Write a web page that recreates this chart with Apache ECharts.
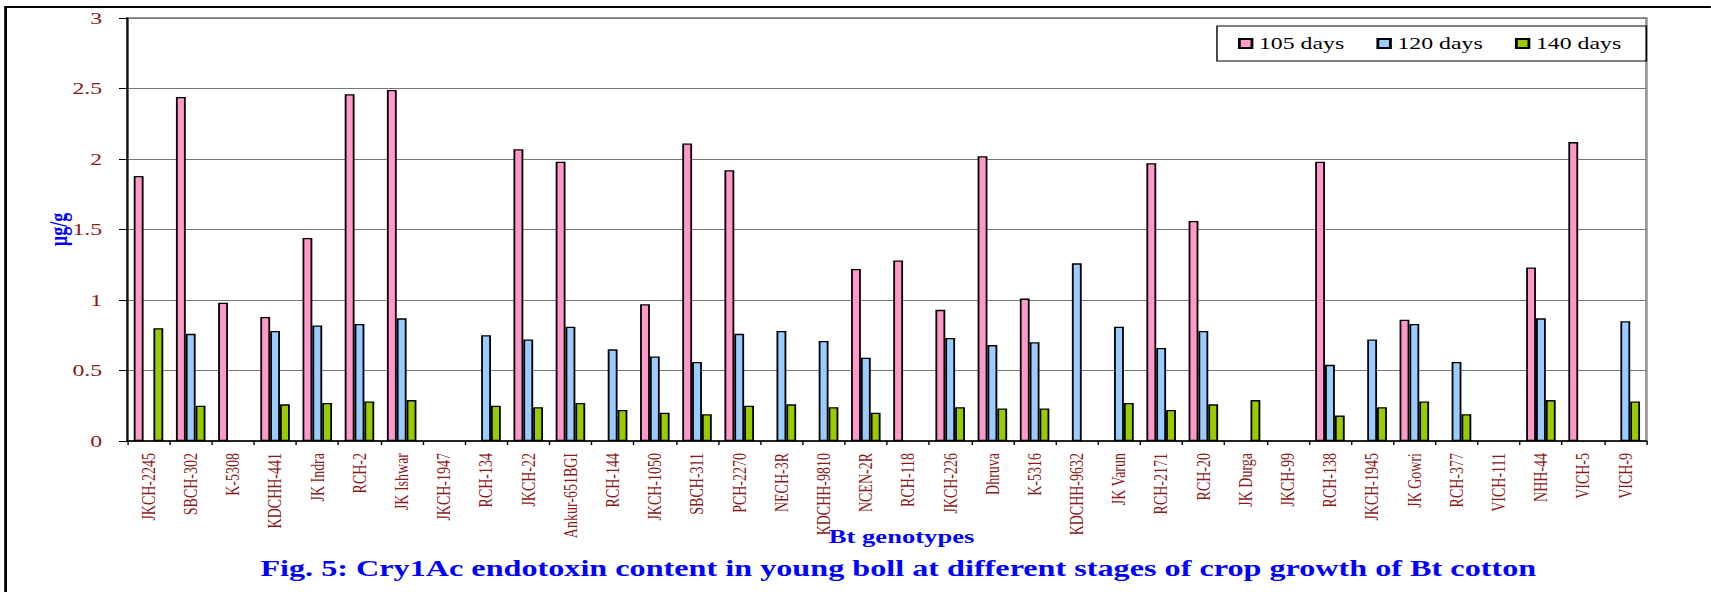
<!DOCTYPE html>
<html>
<head>
<meta charset="utf-8">
<script src="https://cdn.jsdelivr.net/npm/echarts@6/dist/echarts.min.js"></script>
<style>
  html, body { margin: 0; padding: 0; background: #fff; overflow: hidden; }
  /* the source figure is stretched sideways, so the chart is drawn narrow and widened */
  #main { width: 1222px; height: 592px; transform: scaleX(1.4); transform-origin: 0 0; }
</style>
</head>
<body>
<div id="main"></div>
<script>
var categories = ['JKCH-2245', 'SBCH-302', 'K-5308', 'KDCHH-441', 'JK Indra', 'RCH-2', 'JK Ishwar', 'JKCH-1947',
  'RCH-134', 'JKCH-22', 'Ankur-651BGI', 'RCH-144', 'JKCH-1050', 'SBCH-311', 'PCH-2270', 'NECH-3R',
  'KDCHH-9810', 'NCEN-2R', 'RCH-118', 'JKCH-226', 'Dhruva', 'K-5316', 'KDCHH-9632', 'JK Varun',
  'RCH-2171', 'RCH-20', 'JK Durga', 'JKCH-99', 'RCH-138', 'JKCH-1945', 'JK Gowri', 'RCH-377',
  'VICH-111', 'NHH-44', 'VICH-5', 'VICH-9'];

// µg/g, null = no bar in the figure
var days105 = [1.88, 2.44, 0.98, 0.88, 1.44, 2.46, 2.49, null, null, 2.07, 1.98, null, 0.97, 2.11, 1.92, null,
  null, 1.22, 1.28, 0.93, 2.02, 1.01, null, null, 1.97, 1.56, null, null, 1.98, null, 0.86, null,
  null, 1.23, 2.12, null];
var days120 = [null, 0.76, null, 0.78, 0.82, 0.83, 0.87, null, 0.75, 0.72, 0.81, 0.65, 0.60, 0.56, 0.76, 0.78,
  0.71, 0.59, null, 0.73, 0.68, 0.70, 1.26, 0.81, 0.66, 0.78, null, null, 0.54, 0.72, 0.83, 0.56,
  null, 0.87, null, 0.85];
var days140 = [0.80, 0.25, null, 0.26, 0.27, 0.28, 0.29, null, 0.25, 0.24, 0.27, 0.22, 0.20, 0.19, 0.25, 0.26,
  0.24, 0.20, null, 0.24, 0.23, 0.23, null, 0.27, 0.22, 0.26, 0.29, null, 0.18, 0.24, 0.28, 0.19,
  null, 0.29, null, 0.28];

var seriesNames = ['105 days', '120 days', '140 days'];
var seriesColors = ['#ff99cc', '#99ccff', '#99cc00'];

var serif = "'Liberation Serif', 'Times New Roman', serif";
var labelRed = '#8b1a1a';
var blue = '#0000ff';

var myChart = echarts.init(document.getElementById('main'), null, { renderer: 'svg' });

function barSeries(i, data) {
  return {
    name: seriesNames[i],
    type: 'bar',
    data: data,
    barGap: '0%',
    barCategoryGap: '30%',
    itemStyle: { color: seriesColors[i], borderColor: '#000', borderWidth: 1.3 }
  };
}

var option = {
  animation: false,
  backgroundColor: '#fff',
  title: {
    text: 'Fig. 5: Cry1Ac endotoxin content in young boll at different stages of crop growth of Bt cotton',
    left: 186,
    top: 557,
    padding: 0,
    textStyle: { fontFamily: serif, fontSize: 23, fontWeight: 'bold', color: blue }
  },
  legend: {
    data: seriesNames,
    right: 46,
    top: 26,
    orient: 'horizontal',
    padding: [9, 18, 9, 15],
    itemGap: 23,
    itemWidth: 9,
    itemHeight: 9,
    icon: 'rect',
    borderColor: '#000',
    borderWidth: 1,
    textStyle: { fontFamily: serif, fontSize: 17, color: '#000' }
  },
  grid: {
    left: 91,
    right: 46,
    top: 18,
    bottom: 151,
    show: true,
    borderColor: '#999',
    borderWidth: 2
  },
  graphic: [
    {
      type: 'rect',
      shape: { x: 4, y: 7, width: 1400, height: 700 },
      style: { fill: 'none', stroke: '#000', lineWidth: 2 },
      silent: true
    },
    {
      type: 'text',
      x: 644,
      y: 536,
      style: {
        text: 'Bt genotypes',
        fontFamily: serif,
        fontSize: 19,
        fontWeight: 'bold',
        fill: blue,
        align: 'center',
        verticalAlign: 'middle'
      },
      z: 10
    }
  ],
  xAxis: {
    type: 'category',
    data: categories,
    axisLine: { lineStyle: { color: '#000', width: 1.5 } },
    axisTick: { show: true, length: 4, lineStyle: { color: '#000' } },
    axisLabel: {
      interval: 0,
      rotate: 90,
      margin: 12,
      fontFamily: serif,
      fontSize: 14,
      color: labelRed
    },
    splitLine: { show: false }
  },
  yAxis: {
    type: 'value',
    min: 0,
    max: 3,
    interval: 0.5,
    name: 'µg/g',
    nameLocation: 'middle',
    nameGap: 40,
    nameMoveOverlap: false,
    nameTextStyle: { fontFamily: serif, fontSize: 18, fontWeight: 'bold', color: blue },
    axisLine: { show: true, lineStyle: { color: '#111', width: 1.5 } },
    axisTick: { show: true, length: 6, lineStyle: { color: '#000' } },
    axisLabel: { margin: 18, fontFamily: serif, fontSize: 17, color: labelRed },
    splitLine: { show: true, lineStyle: { color: '#777', width: 1 } }
  },
  series: [
    barSeries(0, days105),
    barSeries(1, days120),
    barSeries(2, days140)
  ]
};

myChart.setOption(option);
</script>
</body>
</html>
